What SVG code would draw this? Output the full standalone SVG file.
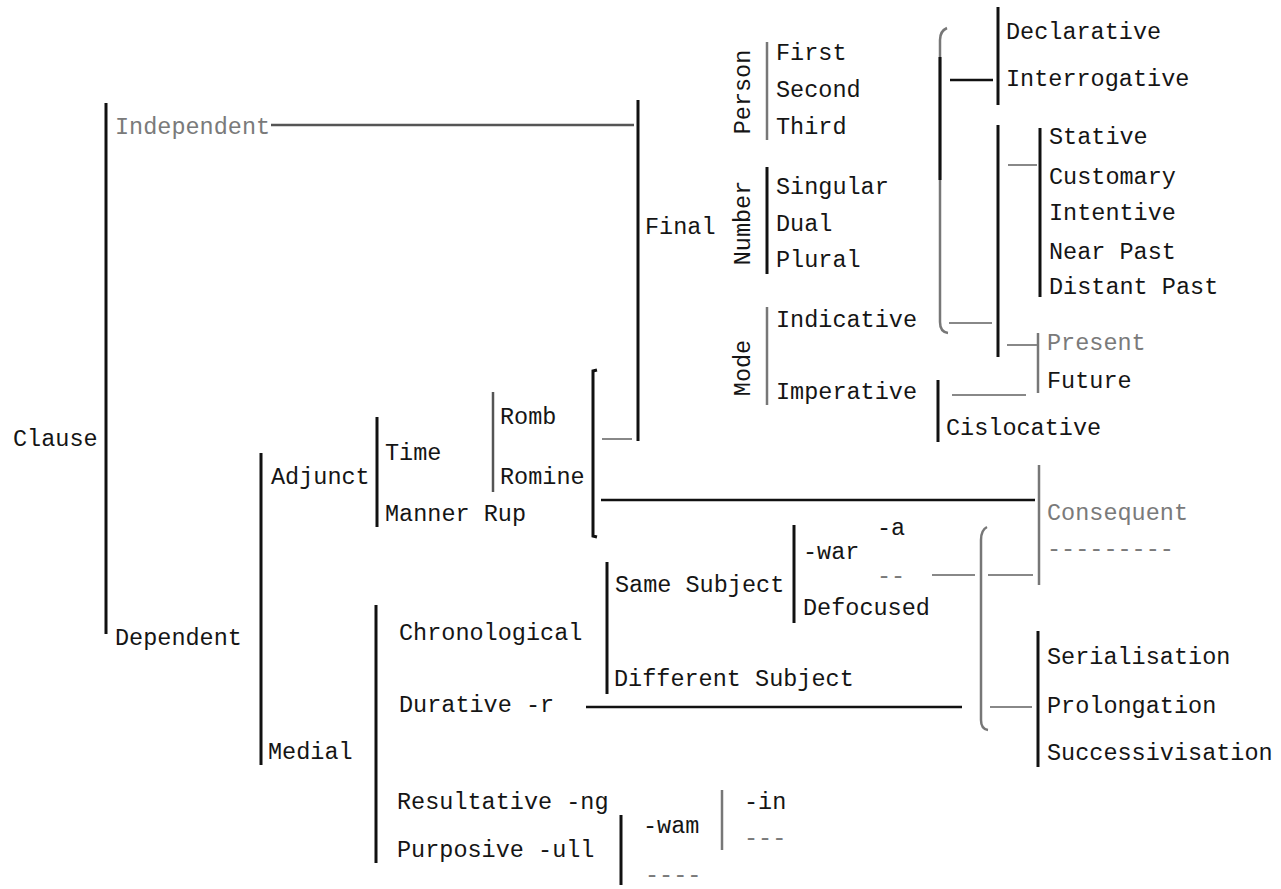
<svg xmlns="http://www.w3.org/2000/svg" width="1281" height="889" viewBox="0 0 1281 889">
<style>
text{font-family:"Liberation Mono","DejaVu Sans Mono",monospace;font-size:23.5px;fill:#151515;dominant-baseline:central}
.g{fill:#7a7a7a}
.v{stroke:#111;stroke-width:3;fill:none}
.vg{stroke:#777;stroke-width:2.5;fill:none}
.h{stroke:#111;stroke-width:2.5;fill:none}
.hg{stroke:#888;stroke-width:2;fill:none}
</style>
<rect width="1281" height="889" fill="#fff"/>
<g id="connectors">
<line class="v" x1="106" y1="103" x2="106" y2="634"/>
<line class="v" x1="638" y1="100" x2="638" y2="441"/>
<line class="vg" x1="767" y1="42" x2="767" y2="140"/>
<line class="v" x1="767" y1="167" x2="767" y2="274"/>
<line class="vg" x1="767" y1="307" x2="767" y2="405"/>
<path class="vg" d="M947,28 Q940,31 940,40 L940,322 Q940,332 948,333"/>
<line class="v" x1="940" y1="57" x2="940" y2="180"/>
<line class="v" x1="998" y1="7" x2="998" y2="105"/>
<line class="v" x1="998" y1="125" x2="998" y2="357"/>
<line class="v" x1="1040" y1="128" x2="1040" y2="297"/>
<line class="vg" x1="1038" y1="333" x2="1038" y2="393"/>
<line class="v" x1="938" y1="380" x2="938" y2="442"/>
<line class="v" x1="261" y1="453" x2="261" y2="765"/>
<line class="v" x1="377" y1="417" x2="377" y2="527"/>
<line class="vg" x1="493" y1="392" x2="493" y2="492" style="stroke:#555"/>
<path class="v" d="M597,370 L593,371 L593,536 L597,537"/>
<line class="vg" x1="1039" y1="465" x2="1039" y2="585"/>
<line class="v" x1="794" y1="525" x2="794" y2="623"/>
<line class="v" x1="607" y1="562" x2="607" y2="694"/>
<path class="vg" d="M987,527 Q981,530 981,540 L981,720 Q981,729 988,730"/>
<line class="v" x1="1038" y1="631" x2="1038" y2="767"/>
<line class="v" x1="376" y1="605" x2="376" y2="863"/>
<line class="v" x1="621" y1="815" x2="621" y2="885"/>
<line class="vg" x1="722" y1="790" x2="722" y2="850"/>
<line class="h" x1="271" y1="125" x2="634" y2="125" style="stroke:#555"/>
<line class="h" x1="950" y1="80" x2="993" y2="80"/>
<line class="hg" x1="949" y1="323" x2="992" y2="323"/>
<line class="hg" x1="1008" y1="165" x2="1037" y2="165"/>
<line class="hg" x1="1007" y1="345" x2="1037" y2="345"/>
<line class="hg" x1="952" y1="395" x2="1026" y2="395"/>
<line class="hg" x1="602" y1="439" x2="632" y2="439"/>
<line class="h" x1="601" y1="500" x2="1035" y2="500"/>
<line class="hg" x1="932" y1="575" x2="975" y2="575"/>
<line class="hg" x1="988" y1="575" x2="1033" y2="575"/>
<line class="h" x1="586" y1="707" x2="962" y2="707"/>
<line class="hg" x1="990" y1="707" x2="1032" y2="707"/>
</g>
<g id="n-clause"><text x="13" y="439">Clause</text></g>
<g id="n-independent"><text class="g" x="115" y="127">Independent</text></g>
<g id="n-dependent"><text x="115" y="638">Dependent</text></g>
<g id="n-final"><text x="645" y="227">Final</text></g>
<g id="n-person"><text transform="translate(743,92) rotate(-90)" text-anchor="middle">Person</text></g>
<g id="n-first"><text x="776" y="53">First</text></g>
<g id="n-second"><text x="776" y="90">Second</text></g>
<g id="n-third"><text x="776" y="127">Third</text></g>
<g id="n-number"><text transform="translate(743,223) rotate(-90)" text-anchor="middle">Number</text></g>
<g id="n-singular"><text x="776" y="187">Singular</text></g>
<g id="n-dual"><text x="776" y="224">Dual</text></g>
<g id="n-plural"><text x="776" y="260">Plural</text></g>
<g id="n-mode"><text transform="translate(743,368) rotate(-90)" text-anchor="middle">Mode</text></g>
<g id="n-indicative"><text x="776" y="320">Indicative</text></g>
<g id="n-imperative"><text x="776" y="392">Imperative</text></g>
<g id="n-declarative"><text x="1006" y="32">Declarative</text></g>
<g id="n-interrogative"><text x="1006" y="79">Interrogative</text></g>
<g id="n-stative"><text x="1049" y="137">Stative</text></g>
<g id="n-customary"><text x="1049" y="177">Customary</text></g>
<g id="n-intentive"><text x="1049" y="213">Intentive</text></g>
<g id="n-nearpast"><text x="1049" y="252">Near Past</text></g>
<g id="n-distantpast"><text x="1049" y="287">Distant Past</text></g>
<g id="n-present"><text class="g" x="1047" y="343">Present</text></g>
<g id="n-future"><text x="1047" y="381">Future</text></g>
<g id="n-cislocative"><text x="946" y="428">Cislocative</text></g>
<g id="n-adjunct"><text x="271" y="477">Adjunct</text></g>
<g id="n-time"><text x="385" y="453">Time</text></g>
<g id="n-manner"><text x="385" y="514">Manner Rup</text></g>
<g id="n-romb"><text x="500" y="417">Romb</text></g>
<g id="n-romine"><text x="500" y="477">Romine</text></g>
<g id="n-consequent"><text class="g" x="1047" y="513">Consequent</text><text class="g" x="1047" y="549">---------</text></g>
<g id="n-a"><text x="877" y="528">-a</text></g>
<g id="n-war"><text x="803" y="552">-war</text></g>
<g id="n-dash2"><text class="g" x="877" y="576">--</text></g>
<g id="n-defocused"><text x="803" y="608">Defocused</text></g>
<g id="n-samesubject"><text x="615" y="585">Same Subject</text></g>
<g id="n-differentsubject"><text x="614" y="679">Different Subject</text></g>
<g id="n-chronological"><text x="399" y="633">Chronological</text></g>
<g id="n-durative"><text x="399" y="705">Durative -r</text></g>
<g id="n-serialisation"><text x="1047" y="657">Serialisation</text></g>
<g id="n-prolongation"><text x="1047" y="706">Prolongation</text></g>
<g id="n-successivisation"><text x="1047" y="753">Successivisation</text></g>
<g id="n-medial"><text x="268" y="752">Medial</text></g>
<g id="n-resultative"><text x="397" y="802">Resultative -ng</text></g>
<g id="n-purposive"><text x="397" y="850">Purposive -ull</text></g>
<g id="n-wam"><text x="643" y="826">-wam</text><text class="g" x="645" y="875">----</text></g>
<g id="n-in"><text x="744" y="802">-in</text><text class="g" x="744" y="838">---</text></g>
</svg>
